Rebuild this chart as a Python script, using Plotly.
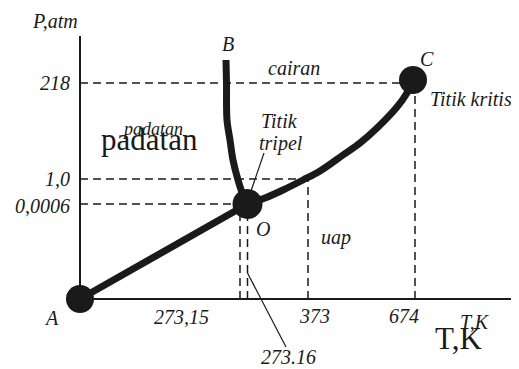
import plotly.graph_objects as go

# Schematic phase diagram of water (non-linear schematic axes; origin at point A)
# Temperature ticks (label, schematic position)
T_tick_labels = ["273,15", "273.16", "373", "674"]
T_tick_pos = [160, 167.5, 228, 335]
# Pressure ticks (label, schematic position)
P_tick_labels = ["0,0006", "1,0", "218"]
P_tick_pos = [95, 120, 216]

# Special points
point_names = ["A", "O", "C"]
point_T = [0, 167.5, 333]
point_P = [0, 95, 219]

# Curves
curve_AO_T = [0, 167.5]
curve_AO_P = [0, 95]
curve_OB_T = [167.5, 163, 158, 153, 150, 147, 146.5, 146]
curve_OB_P = [95, 104, 119, 139, 159, 179, 216, 239]
curve_OC_T = [167.5, 185, 203, 223, 240, 263, 280, 297, 317, 327, 333]
curve_OC_P = [95, 101, 109, 119, 128, 144, 156, 171, 192, 206, 219]

FONT = "Liberation Serif, Times New Roman, Times, serif"
INK = "#1a1a1a"

fig = go.Figure()

# Axes lines
fig.add_shape(type="line", x0=0, y0=0, x1=0, y1=263, line=dict(color=INK, width=2))
fig.add_shape(type="line", x0=0, y0=0, x1=450, y1=0, line=dict(color=INK, width=2))

dash = "8px,5px"
# Horizontal dashed lines from P axis
p_ends = {"0,0006": point_T[1], "1,0": T_tick_pos[2], "218": point_T[2]}
for lab, p in zip(P_tick_labels, P_tick_pos):
    fig.add_shape(type="line", x0=0, y0=p, x1=p_ends[lab], y1=p,
                  line=dict(color=INK, width=1.5, dash=dash))
# Vertical dashed lines from T axis
t_ends = {"273,15": P_tick_pos[0], "273.16": P_tick_pos[0], "373": P_tick_pos[1], "674": point_P[2]}
for lab, t in zip(T_tick_labels, T_tick_pos):
    fig.add_shape(type="line", x0=t, y0=0, x1=t, y1=t_ends[lab],
                  line=dict(color=INK, width=1.5, dash=dash))

# Leader lines
fig.add_shape(type="line", x0=184, y0=146, x1=171, y1=108, line=dict(color=INK, width=1.2))
fig.add_shape(type="line", x0=T_tick_pos[1], y0=26, x1=206, y1=-48, line=dict(color=INK, width=1.2))

# Curves
for xs, ys in [(curve_AO_T, curve_AO_P), (curve_OB_T, curve_OB_P), (curve_OC_T, curve_OC_P)]:
    fig.add_trace(go.Scatter(x=xs, y=ys, mode="lines", line=dict(color=INK, width=7, shape="spline"),
                             hoverinfo="skip", showlegend=False))

# Points
fig.add_trace(go.Scatter(x=point_T, y=point_P, mode="markers",
                         marker=dict(color=INK, size=[28, 30, 28], opacity=1, line=dict(width=0)),
                         showlegend=False, hoverinfo="skip"))

def ann(text, x, y, size=20, italic=True, xanchor="center"):
    fig.add_annotation(x=x, y=y, text=text, showarrow=False, xanchor=xanchor, yanchor="middle",
                       font=dict(family=FONT, size=size, color=INK,
                                 style="italic" if italic else "normal"))

# Pressure tick labels
for lab, p in zip(P_tick_labels, P_tick_pos):
    ann(lab, -8, p + (0 if lab != "0,0006" else -2), xanchor="right")
# Temperature tick labels
ann(T_tick_labels[0], 101, -18)
ann(T_tick_labels[1], 208, -58)
ann(T_tick_labels[2], 234, -17)
ann(T_tick_labels[3], 324, -17)

# Axis titles
ann("P,atm", -25, 278)
ann("T,K", 395, -23, size=20)
ann("T,K", 378, -39, size=31, italic=False)

# Point labels
ann("A", -29, -19)
ann("B", 148, 255)
ann("C", 347, 240)
ann("O", 183, 70)

# Region labels
ann("padatan", 72, 170, size=18)
ann("padatan", 69, 160, size=31, italic=False)
ann("cairan", 214, 231)
ann("uap", 256, 62)
ann("Titik", 199, 178)
ann("tripel", 201, 156)
ann("Titik kritis", 348, 200, xanchor="left")

fig.update_layout(
    width=519, height=369,
    margin=dict(l=0, r=0, t=0, b=0),
    paper_bgcolor="white", plot_bgcolor="white",
    xaxis=dict(range=[-72, 447], visible=False, fixedrange=True),
    yaxis=dict(range=[-78, 291], visible=False, fixedrange=True),
    showlegend=False,
)

fig.write_html("out.html", config={"displayModeBar": False})
